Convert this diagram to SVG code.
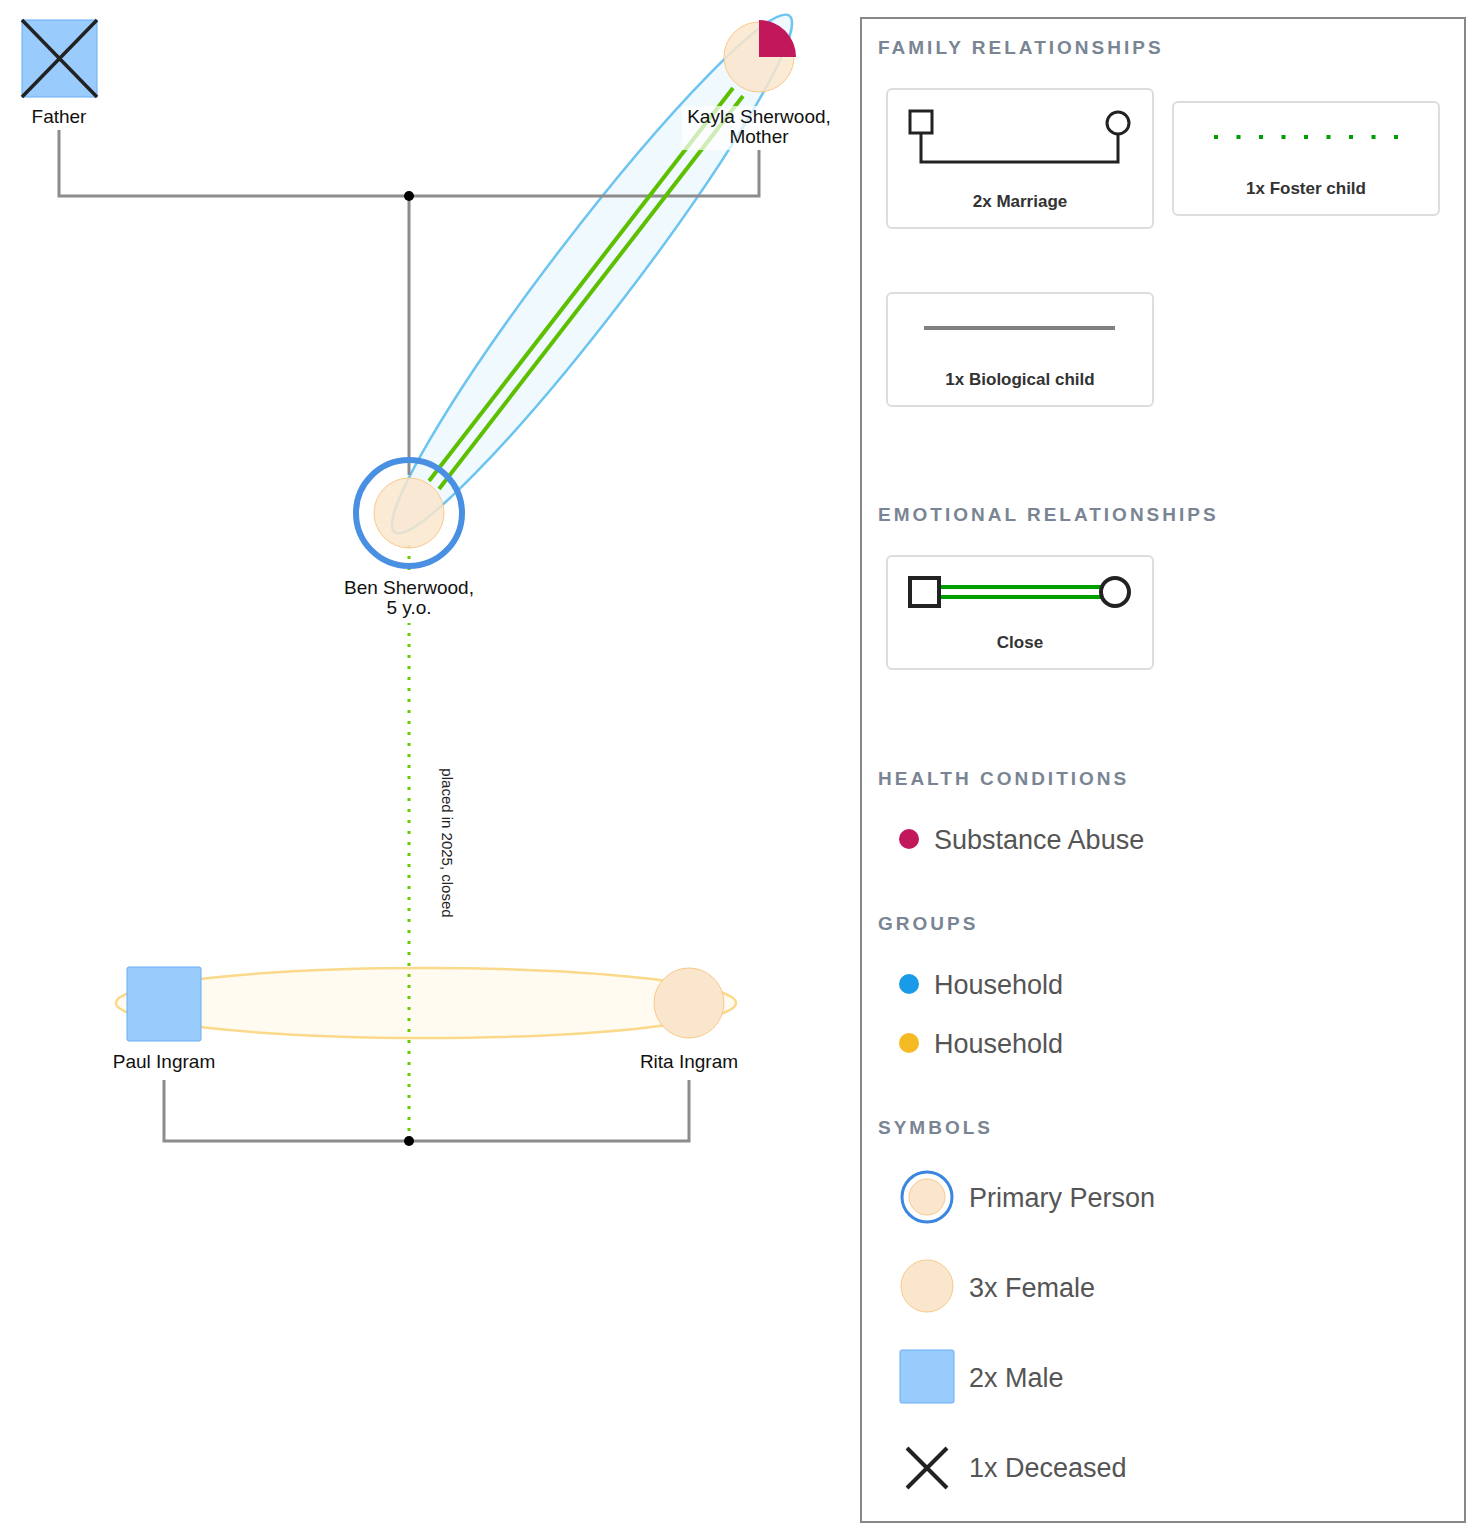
<svg xmlns="http://www.w3.org/2000/svg" width="1483" height="1540" viewBox="0 0 1483 1540">
<style>
text{font-family:"Liberation Sans",Arial,sans-serif}
.lbl{font-size:19px;fill:#111;text-anchor:middle}
.fam{stroke:#8c8c8c;stroke-width:3;fill:none}
.fem{fill:#fae6cd;stroke:#f9c98a;stroke-width:1}
.male{fill:#99cbfd;stroke:#66aef5;stroke-width:1}
.h{font-size:19px;font-weight:bold;fill:#7a8594;letter-spacing:3px}
.box{fill:#fff;stroke:#ddd;stroke-width:2}
.bl{font-size:17px;font-weight:bold;fill:#333;text-anchor:middle}
.lt{font-size:27px;fill:#555}
</style>
<rect width="1483" height="1540" fill="#fff"/>
<g id="groups">
<ellipse cx="592" cy="274" rx="325" ry="40" transform="rotate(-52.6 592 274)" fill="#eaf6fd" fill-opacity="0.7" stroke="#6cc4f0" stroke-width="2.5"/>
<ellipse cx="426" cy="1003" rx="310" ry="35" fill="#fffbf0" stroke="#fbd98a" stroke-width="2.5"/>
</g>
<g id="connectors">
<path class="fam" d="M59 130V196H759V150M409 196V475"/>
<circle cx="409" cy="196" r="5" fill="#000"/>
<path class="fam" d="M164 1080V1141H689V1080"/>
<line x1="409" y1="545" x2="409" y2="1141" stroke="#66cc00" stroke-width="3" stroke-dasharray="3 8"/>
<circle cx="409" cy="1141" r="5" fill="#000"/>
<text x="442" y="843" transform="rotate(90 442 843)" font-size="15" fill="#222" text-anchor="middle">placed in 2025, closed</text>
<line x1="429" y1="481" x2="733" y2="88" stroke="#5cc000" stroke-width="4"/>
<line x1="439" y1="489" x2="743" y2="96" stroke="#5cc000" stroke-width="4"/>
</g>
<g id="father">
<rect x="22" y="20" width="75" height="77" class="male"/>
<path d="M22 20L97 97M97 20L22 97" stroke="#222" stroke-width="3.5"/>
<text x="59" y="123" class="lbl">Father</text>
</g>
<g id="kayla">
<circle cx="759" cy="57" r="35" class="fem" fill-opacity="0.85"/>
<path d="M759 57V20A37 37 0 0 1 796 57Z" fill="#c2185b"/>
<rect x="682" y="106" width="154" height="44" fill="#fff" fill-opacity="0.7"/>
<text x="759" y="123" class="lbl">Kayla Sherwood,</text>
<text x="759" y="143" class="lbl">Mother</text>
</g>
<g id="ben">
<circle cx="409" cy="513" r="53" fill="none" stroke="#4a90e2" stroke-width="6"/>
<circle cx="409" cy="513" r="35" class="fem" fill-opacity="0.85"/>
<rect x="336" y="573" width="146" height="50" fill="#fff"/>
<text x="409" y="594" class="lbl">Ben Sherwood,</text>
<text x="409" y="614" class="lbl">5 y.o.</text>
</g>
<g id="paul">
<rect x="127" y="967" width="74" height="74" rx="2" class="male"/>
<text x="164" y="1068" class="lbl">Paul Ingram</text>
</g>
<g id="rita">
<circle cx="689" cy="1003" r="35" class="fem"/>
<text x="689" y="1068" class="lbl">Rita Ingram</text>
</g>
<g id="legend">
<rect x="861" y="18" width="604" height="1504" fill="#fff" stroke="#888" stroke-width="2"/>
<text x="878" y="54" class="h">FAMILY RELATIONSHIPS</text>
<rect x="887" y="89" width="266" height="139" rx="5" class="box"/>
<path d="M921 131V162H1118V131" stroke="#222" stroke-width="3" fill="none"/>
<rect x="910" y="111" width="22" height="22" fill="#fff" stroke="#222" stroke-width="3"/>
<circle cx="1118" cy="123" r="11" fill="#fff" stroke="#222" stroke-width="3"/>
<text x="1020" y="207" class="bl">2x Marriage</text>
<rect x="1173" y="102" width="266" height="113" rx="5" class="box"/>
<line x1="1214" y1="137" x2="1400" y2="137" stroke="#00a000" stroke-width="4" stroke-dasharray="4 18.5"/>
<text x="1306" y="194" class="bl">1x Foster child</text>
<rect x="887" y="293" width="266" height="113" rx="5" class="box"/>
<line x1="924" y1="328" x2="1115" y2="328" stroke="#808080" stroke-width="4"/>
<text x="1020" y="385" class="bl">1x Biological child</text>
<text x="878" y="521" class="h">EMOTIONAL RELATIONSHIPS</text>
<rect x="887" y="556" width="266" height="113" rx="5" class="box"/>
<line x1="935" y1="587" x2="1108" y2="587" stroke="#00a000" stroke-width="4"/>
<line x1="935" y1="597" x2="1108" y2="597" stroke="#00a000" stroke-width="4"/>
<rect x="910" y="578" width="29" height="28" fill="#fff" stroke="#222" stroke-width="4"/>
<circle cx="1115" cy="592" r="14" fill="#fff" stroke="#222" stroke-width="4"/>
<text x="1020" y="648" class="bl">Close</text>
<text x="878" y="785" class="h">HEALTH CONDITIONS</text>
<circle cx="909" cy="839" r="10" fill="#c2185b"/>
<text x="934" y="849" class="lt">Substance Abuse</text>
<text x="878" y="930" class="h">GROUPS</text>
<circle cx="909" cy="984" r="10" fill="#1a9be8"/>
<text x="934" y="994" class="lt">Household</text>
<circle cx="909" cy="1043" r="10" fill="#f5b921"/>
<text x="934" y="1053" class="lt">Household</text>
<text x="878" y="1134" class="h">SYMBOLS</text>
<circle cx="927" cy="1197" r="25" fill="none" stroke="#3a86e0" stroke-width="3"/>
<circle cx="927" cy="1197" r="18" class="fem"/>
<text x="969" y="1207" class="lt">Primary Person</text>
<circle cx="927" cy="1286" r="26" class="fem"/>
<text x="969" y="1297" class="lt">3x Female</text>
<rect x="900" y="1350" width="54" height="53" rx="2" class="male"/>
<text x="969" y="1387" class="lt">2x Male</text>
<path d="M907 1448L947 1488M947 1448L907 1488" stroke="#222" stroke-width="4"/>
<text x="969" y="1477" class="lt">1x Deceased</text>
</g>
</svg>
